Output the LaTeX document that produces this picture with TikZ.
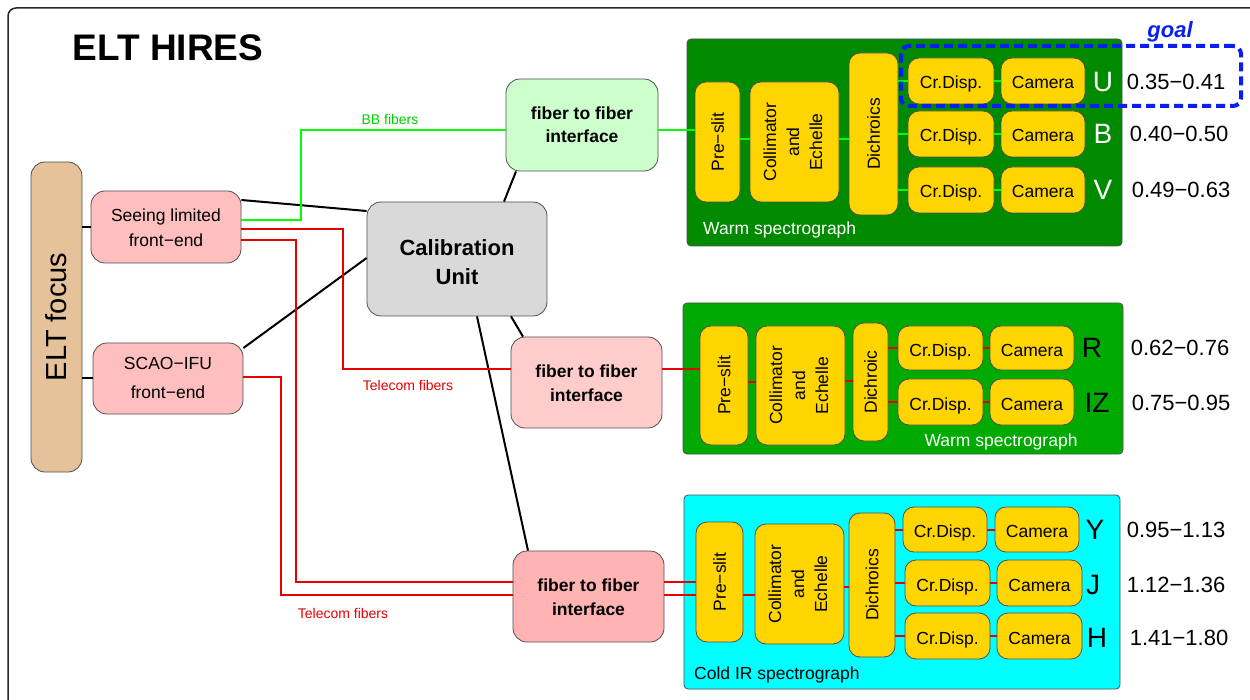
\documentclass[tikz,border=0pt]{standalone}
\usepackage{fontspec}
\usepackage{graphicx}
\setmainfont{Liberation Sans}
\definecolor{tanc}{HTML}{E5C299}
\definecolor{fepink}{HTML}{FFBFBF}
\definecolor{calgray}{HTML}{D9D9D9}
\definecolor{ffgreen}{HTML}{CCFFCC}
\definecolor{ffpink}{HTML}{FFCCCC}
\definecolor{ffred}{HTML}{FFB3B3}
\definecolor{spdark}{HTML}{008A00}
\definecolor{spmid}{HTML}{00AA00}
\definecolor{spcyan}{HTML}{00FFFF}
\definecolor{goldc}{HTML}{FFD500}
\definecolor{fibgreen}{HTML}{00FF00}
\definecolor{labgreen}{HTML}{00D000}
\definecolor{fibred}{HTML}{E60000}
\definecolor{goalblue}{HTML}{0A1EF0}
\definecolor{edgec}{HTML}{505050}
\newcommand{\vtxt}[1]{\rotatebox{90}{#1}}
\newcommand{\vstack}[1]{\rotatebox{90}{\begin{tabular}{@{}c@{}}#1\end{tabular}}}
\begin{document}
\begin{tikzpicture}[x=1pt,y=-1pt,
  box/.style={draw=edgec, line width=0.8pt, inner sep=0pt, align=center},
  roundbox/.style={box, rounded corners=14pt},
  ybox/.style={box, fill=goldc, rounded corners=11pt, font=\fontsize{17.5}{23}\selectfont},
  yhbox/.style={ybox, text height=16pt, text depth=0pt},
  spbox/.style={box, rounded corners=4pt},
  gline/.style={fibgreen, line width=2pt},
  rline/.style={fibred, line width=2pt},
  kline/.style={black, line width=2pt},
  fibtxt/.style={font=\fontsize{14}{16}\selectfont, inner sep=0pt},
  band/.style={font=\fontsize{28}{30}\selectfont, inner sep=0pt},
  num/.style={font=\fontsize{22}{24}\selectfont, inner sep=0pt},
  sptxt/.style={font=\fontsize{17.5}{20}\selectfont, inner sep=0pt}
]
\useasboundingbox (0,0) rectangle (1250,700);
% outer frame
\draw[line width=1.5pt, black!85, rounded corners=8pt] (8,700) -- (8,8) -- (1250,8);
% title
\node[font=\fontsize{37}{40}\selectfont\bfseries, inner sep=0pt] (title) at (168,48) {ELT HIRES};

% left side
\node[roundbox, fill=tanc, minimum width=51, minimum height=310, font=\fontsize{29}{32}\selectfont] (elt) at (56.5,317) {\vtxt{ELT focus}};
\node[roundbox, fill=fepink, minimum width=150, minimum height=72, font=\fontsize{17.5}{25}\selectfont, text height=40pt, text depth=0pt] (seeing) at (166,227) {Seeing limited\\front−end};
\node[roundbox, fill=fepink, minimum width=150, minimum height=71, font=\fontsize{17.5}{29}\selectfont, text height=41pt, text depth=0pt] (scao) at (168,378.5) {SCAO−IFU\\front−end};
\node[roundbox, fill=calgray, minimum width=180, minimum height=114, font=\fontsize{22}{29}\selectfont\bfseries, text height=52pt, text depth=0pt] (calib) at (457,259) {Calibration\\Unit};
\node[roundbox, fill=ffgreen, minimum width=152, minimum height=92, font=\fontsize{17.5}{23.5}\selectfont\bfseries, text height=36pt, text depth=0pt] (ffg) at (582,125) {fiber to fiber\\interface};
\node[roundbox, fill=ffpink, minimum width=151, minimum height=91, font=\fontsize{17.5}{24.5}\selectfont\bfseries, text height=38pt, text depth=0pt] (ffm) at (586.5,382.5) {fiber to fiber\\interface};
\node[roundbox, fill=ffred, minimum width=151, minimum height=91, font=\fontsize{17.5}{24.5}\selectfont\bfseries, text height=38pt, text depth=0pt] (ffb) at (588.5,596.5) {fiber to fiber\\interface};

% spectrograph backgrounds
\node[spbox, fill=spdark, minimum width=435, minimum height=207] (sp1) at (904.5,142.5) {};
\node[spbox, fill=spmid, minimum width=440, minimum height=151] (sp2) at (903,378.5) {};
\node[spbox, fill=spcyan, minimum width=436, minimum height=194] (sp3) at (902,592) {};

% top spectrograph
\node[ybox, minimum width=45, minimum height=120] (pre1) at (717.5,142) {\vtxt{Pre−slit}};
\node[ybox, minimum width=89, minimum height=120] (col1) at (794.5,142) {\vstack{Collimator\\and\\Echelle}};
\node[ybox, minimum width=49, minimum height=162] (dich1) at (873.5,134) {\vtxt{Dichroics}};
\node[yhbox, minimum width=86, minimum height=46] (cdU) at (951,81) {Cr.Disp.};
\node[yhbox, minimum width=84, minimum height=46] (camU) at (1043,81) {Camera};
\node[yhbox, minimum width=86, minimum height=46] (cdB) at (951,134) {Cr.Disp.};
\node[yhbox, minimum width=84, minimum height=46] (camB) at (1043,134) {Camera};
\node[yhbox, minimum width=86, minimum height=46] (cdV) at (951,190) {Cr.Disp.};
\node[yhbox, minimum width=84, minimum height=46] (camV) at (1043,190) {Camera};
\node[band, white] (bU) at (1103,82) {U};
\node[band, white] (bB) at (1103,134) {B};
\node[band, white] (bV) at (1103,190) {V};
\node[sptxt, white, anchor=west] (sp1lbl) at (703,230) {Warm spectrograph};

% middle spectrograph
\node[ybox, minimum width=48, minimum height=119] (pre2) at (724,385.5) {\vtxt{Pre−slit}};
\node[ybox, minimum width=89, minimum height=119] (col2) at (800.5,385.5) {\vstack{Collimator\\and\\Echelle}};
\node[ybox, minimum width=35, minimum height=118] (dich2) at (870.5,382) {\vtxt{Dichroic}};
\node[yhbox, minimum width=85, minimum height=44] (cdR) at (940.5,348) {Cr.Disp.};
\node[yhbox, minimum width=84, minimum height=44] (camR) at (1032,348) {Camera};
\node[yhbox, minimum width=85, minimum height=46] (cdIZ) at (940.5,402) {Cr.Disp.};
\node[yhbox, minimum width=84, minimum height=46] (camIZ) at (1032,402) {Camera};
\node[band] (bR) at (1092,348) {R};
\node[band] (bIZ) at (1097,403) {IZ};
\node[sptxt, white] (sp2lbl) at (1001,442) {Warm spectrograph};

% bottom spectrograph
\node[ybox, minimum width=47, minimum height=120] (pre3) at (719.5,582) {\vtxt{Pre−slit}};
\node[ybox, minimum width=89, minimum height=120] (col3) at (799.5,584) {\vstack{Collimator\\and\\Echelle}};
\node[ybox, minimum width=46, minimum height=144] (dich3) at (872,585) {\vtxt{Dichroics}};
\node[yhbox, minimum width=84, minimum height=45] (cdY) at (945,529.5) {Cr.Disp.};
\node[yhbox, minimum width=84, minimum height=45] (camY) at (1037,529.5) {Camera};
\node[yhbox, minimum width=85, minimum height=46] (cdJ) at (947.5,583) {Cr.Disp.};
\node[yhbox, minimum width=85, minimum height=46] (camJ) at (1039.5,583) {Camera};
\node[yhbox, minimum width=85, minimum height=46] (cdH) at (947.5,636) {Cr.Disp.};
\node[yhbox, minimum width=85, minimum height=46] (camH) at (1039.5,636) {Camera};
\node[band] (bY) at (1095,530) {Y};
\node[band] (bJ) at (1093,585) {J};
\node[band] (bH) at (1097,638) {H};
\node[sptxt, anchor=west] (sp3lbl) at (694,675) {Cold IR spectrograph};

% wavelength ranges
\node[num] (nU) at (1176,82) {0.35−0.41};
\node[num] (nB) at (1179,134) {0.40−0.50};
\node[num] (nV) at (1181,190) {0.49−0.63};
\node[num] (nR) at (1180,348) {0.62−0.76};
\node[num] (nIZ) at (1181,403) {0.75−0.95};
\node[num] (nY) at (1176,530) {0.95−1.13};
\node[num] (nJ) at (1176,585) {1.12−1.36};
\node[num] (nH) at (1179,638) {1.41−1.80};

% black connectors
\draw[kline] (elt.east |- seeing.west) -- (seeing.west);
\draw[kline] (elt.east |- scao.west) -- (scao.west);
\draw[kline] (seeing.east |- 0,200) -- (calib.west |- 0,211);
\draw[kline] (scao.east |- 0,348) -- (calib.west |- 0,258);
\draw[kline] (calib.north -| 504,0) -- (ffg.south -| 516,0);
\draw[kline] (calib.south -| 511,0) -- (ffm.north -| 523,0);
\draw[kline] (calib.south -| 477,0) -- (ffb.north -| 528,0);

% fibers
\draw[gline] (seeing.east |- 0,220) -- (301,220) -- (301,130) -- (ffg.west |- 0,130);
\node[fibtxt, labgreen] (bblbl) at (390,119) {BB fibers};
\draw[rline] (seeing.east |- 0,229) -- (343,229) -- (343,369) -- (ffm.west |- 0,369);
\draw[rline] (seeing.east |- 0,240) -- (296,240) -- (296,582) -- (ffb.west |- 0,582);
\draw[rline] (scao.east |- 0,377) -- (281,377) -- (281,595) -- (ffb.west |- 0,595);
\node[fibtxt, fibred] (tel1) at (408,385) {Telecom fibers};
\node[fibtxt, fibred] (tel2) at (343,613) {Telecom fibers};

% top spectrograph connectors
\draw[gline] (ffg.east |- 0,130) -- (pre1.west |- 0,130);
\draw[gline] (pre1.east |- 0,139) -- (col1.west |- 0,139);
\draw[gline] (col1.east |- 0,139) -- (dich1.west |- 0,139);
\foreach \r in {U,B,V}{
  \draw[gline] (dich1.east |- cd\r.west) -- (cd\r.west);
  \draw[gline] (cd\r.east) -- (cam\r.west);
}
% middle spectrograph connectors
\draw[rline] (ffm.east |- 0,369) -- (pre2.west |- 0,369);
\draw[rline] (pre2.east |- 0,382) -- (col2.west |- 0,382);
\draw[rline] (col2.east |- 0,381) -- (dich2.west |- 0,381);
\foreach \r in {R,IZ}{
  \draw[rline] (dich2.east |- cd\r.west) -- (cd\r.west);
  \draw[rline] (cd\r.east) -- (cam\r.west);
}
% bottom spectrograph connectors
\draw[rline] (ffb.east |- 0,582) -- (pre3.west |- 0,582);
\draw[rline] (ffb.east |- 0,595) -- (pre3.west |- 0,595);
\draw[rline] (pre3.east |- 0,595) -- (col3.west |- 0,595);
\draw[rline] (col3.east |- 0,587) -- (dich3.west |- 0,587);
\foreach \r in {Y,J,H}{
  \draw[rline] (dich3.east |- cd\r.west) -- (cd\r.west);
  \draw[rline] (cd\r.east) -- (cam\r.west);
}

% goal box
\node[draw=goalblue, line width=4pt, dash pattern=on 9pt off 5pt, rounded corners=8pt, minimum width=340, minimum height=60, inner sep=0pt] (goalbox) at (1071,76) {};
\node[font=\fontsize{22}{24}\selectfont\bfseries\itshape, text=goalblue, inner sep=0pt] (goal) at (1170,32) {goal};
\end{tikzpicture}
\end{document}
